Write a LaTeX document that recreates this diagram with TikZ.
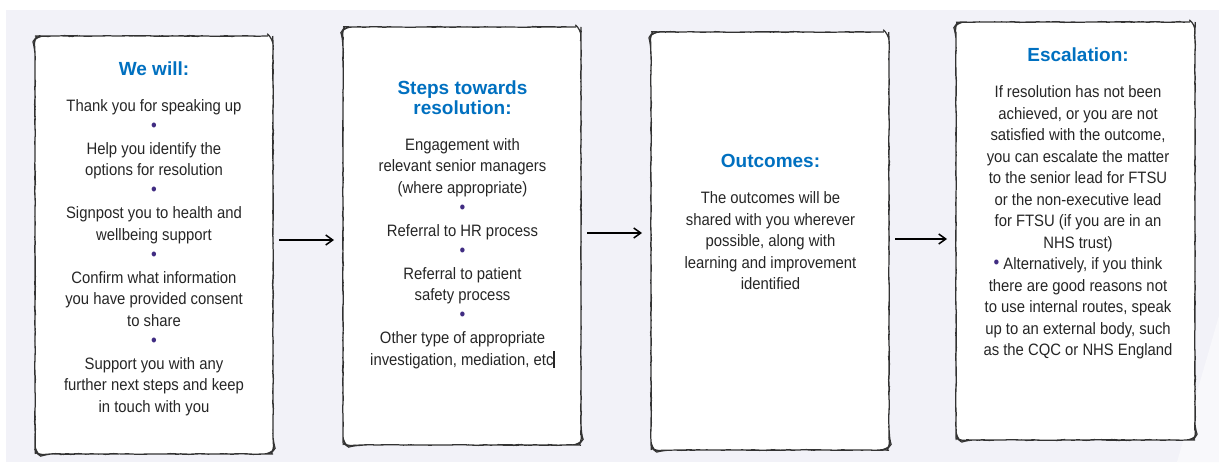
\documentclass[tikz,border=0pt]{standalone}
\usepackage{fontspec}
\setmainfont{Liberation Sans}
\newfontfamily\bodyfont[FakeStretch=0.9]{Liberation Sans}
\usetikzlibrary{positioning,arrows.meta,decorations.pathmorphing}

\definecolor{headblue}{RGB}{0,112,192}
\definecolor{dotpurple}{RGB}{64,44,130}
\definecolor{inkgray}{RGB}{38,38,38}
\definecolor{pagebg}{RGB}{242,242,248}
\definecolor{wedgebg}{RGB}{248,248,251}

\newcommand{\sepdot}{\textcolor{dotpurple}{\raisebox{1.5pt}{\scalebox{1.1}{•}}}}

\tikzstyle{card} = [draw=black!80, line width=1.2pt, fill=white, rounded corners=7pt, minimum width=238pt, minimum height=418pt, inner sep=0pt, outer sep=0pt, decorate, decoration={random steps, segment length=5pt, amplitude=0.3pt}]
\tikzstyle{heading} = [text=headblue, font=\fontsize{19}{20}\selectfont\bfseries, align=center, inner sep=0pt, anchor=north]
\tikzstyle{blurb} = [text=inkgray, font=\bodyfont\fontsize{16.5}{21.5}\selectfont, align=center, inner sep=0pt]
\tikzstyle{flow} = [-{Straight Barb[length=7pt,width=10pt]}, line width=1.5pt, shorten <=6pt, shorten >=9pt]

\begin{document}
\begin{tikzpicture}[x=1pt, y=-1pt, node distance=23pt]
\useasboundingbox (0,0) rectangle (1219,463);
\fill[pagebg] (6,10) rectangle (1219,462);
\fill[wedgebg] (1220,312) -- (1177,462) -- (1219,462) -- cycle;
\pgfmathsetseed{12}

\node [card] (Will_box) at (154,245) {};
\node [card] (Steps_box) at (462,236) {};
\node [card] (Out_box) at (770,241) {};
\node [card, minimum width=239pt] (Esc_box) at (1075.5,231) {};

\node [heading] (Will_lab) at (154,61.5) {We will:};
\node [blurb] (Will_txt) [below=of Will_lab] {Thank you for speaking up\\ \sepdot\\ Help you identify the\\ options for resolution\\ \sepdot\\ Signpost you to health and\\ wellbeing support\\ \sepdot\\ Confirm what information\\ you have provided consent\\ to share\\ \sepdot\\ Support you with any\\ further next steps and keep\\ in touch with you};

\node [heading] (Steps_lab) at (462.5,80.5) {Steps towards\\ resolution:};
\node [blurb] (Steps_txt) [below=of Steps_lab] {Engagement with\\ relevant senior managers\\ (where appropriate)\\ \sepdot\\ Referral to HR process\\ \sepdot\\ Referral to patient\\ safety process\\ \sepdot\\ Other type of appropriate\\ investigation, mediation, etc\rule[-2.5pt]{1.3pt}{16.5pt}};

\node [heading] (Out_lab) at (770.5,154.5) {Outcomes:};
\node [blurb] (Out_txt) [below=of Out_lab] {The outcomes will be\\ shared with you wherever\\ possible, along with\\ learning and improvement\\ identified};

\node [heading] (Esc_lab) at (1078,48) {Escalation:};
\node [blurb] (Esc_txt) [below=23pt of Esc_lab] {If resolution has not been\\ achieved, or you are not\\ satisfied with the outcome,\\ you can escalate the matter\\ to the senior lead for FTSU\\ or the non-executive lead\\ for FTSU (if you are in an\\ NHS trust)\\ \sepdot\ Alternatively, if you think\\ there are good reasons not\\ to use internal routes, speak\\ up to an external body, such\\ as the CQC or NHS England};

\draw [flow] (Will_box.east |- 0,240) -- (Steps_box.west |- 0,240);
\draw [flow] (Steps_box.east |- 0,233) -- (Out_box.west |- 0,233);
\draw [flow] (Out_box.east |- 0,239) -- (Esc_box.west |- 0,239);
\end{tikzpicture}
\end{document}
